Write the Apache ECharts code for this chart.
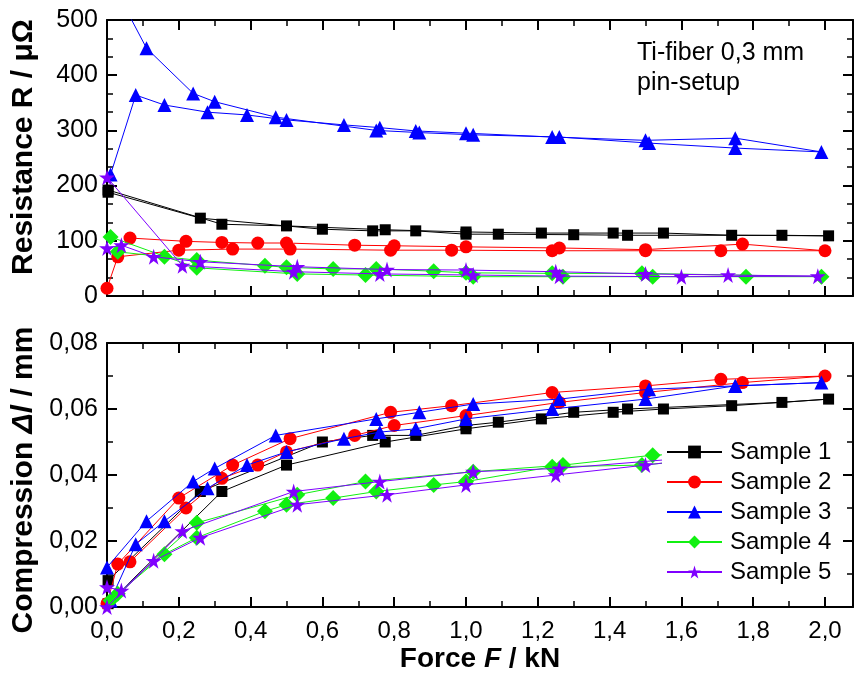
<!DOCTYPE html>
<html><head><meta charset="utf-8">
<script src="https://cdn.jsdelivr.net/npm/echarts@6/dist/echarts.min.js"></script>
<style>html,body{margin:0;padding:0;background:#fff}#c{width:855px;height:677px}</style>
</head><body><div id="c"></div>
<script>
// ---- data (loading then unloading, in measurement order) ----
const names = ['Sample 1','Sample 2','Sample 3','Sample 4','Sample 5'];
const F1 = [0.003,0.32,0.50,0.775,1.00,1.21,1.41,1.55,1.74,2.01,1.88,1.45,1.30,1.09,1.00,0.86,0.74,0.60,0.26,0.003];
const R1 = [192,130,127,120,116,114,114,114,110,109,110,110,111,112,112,118,118,121,141,188];
const C1 = [0.001,0.035,0.043,0.050,0.054,0.057,0.059,0.060,0.061,0.063,0.062,0.060,0.059,0.056,0.055,0.052,0.052,0.050,0.035,0.008];
const F2 = [0.0,0.03,0.20,0.35,0.51,0.79,0.96,1.24,1.50,1.71,2.00,1.77,1.50,1.26,1.00,0.80,0.69,0.50,0.42,0.32,0.22,0.064];
const R2 = [14,71,83,85,85,83,83,82,82,82,82,94,84,87,89,91,92,96,96,97,99,105];
const C2 = [0.001,0.013,0.033,0.043,0.051,0.059,0.061,0.065,0.067,0.069,0.070,0.068,0.065,0.062,0.058,0.055,0.052,0.047,0.043,0.039,0.030,0.0137];
const F3 = [0.01,0.08,0.16,0.28,0.39,0.50,0.66,0.76,0.86,1.00,1.24,1.50,1.75,1.99,1.75,1.51,1.26,1.02,0.87,0.75,0.47,0.30,0.24,0.11,0.0];
const R3 = [220,364,346,333,328,319,310,305,299,295,288,282,286,261,268,277,288,292,296,300,324,352,367,449,585];
const C3 = [0.002,0.019,0.026,0.036,0.043,0.047,0.051,0.053,0.054,0.057,0.060,0.063,0.067,0.068,0.067,0.066,0.063,0.0615,0.059,0.057,0.052,0.042,0.038,0.026,0.012];
const F4 = [0.01,0.25,0.53,0.72,1.02,1.27,1.52,1.78,1.99,1.49,1.24,1.00,0.91,0.75,0.63,0.50,0.44,0.25,0.16,0.03];
const R4 = [107,51,40,38,35,35,35,35,35,41,41,42,45,49,49,52,55,65,71,80];
const C4 = [0.002,0.0255,0.034,0.038,0.041,0.043,0.046,0.047,0.048,0.043,0.0425,0.038,0.037,0.035,0.033,0.031,0.029,0.021,0.016,0.004];
const F5 = [0.0,0.21,0.52,0.76,1.02,1.26,1.60,1.98,1.73,1.50,1.25,1.00,0.78,0.53,0.26,0.13,0.04,0.0];
const R5 = [215,55,44,40,38,36,35,36,38,40,44,47,48,53,62,71,92,87];
const C5 = [0.000,0.023,0.035,0.038,0.041,0.042,0.045,0.047,0.046,0.043,0.040,0.037,0.034,0.031,0.021,0.014,0.005,0.006];

const xTickLabels = ['0,0','0,2','0,4','0,6','0,8','1,0','1,2','1,4','1,6','1,8','2,0'];
const rTickLabels = ['0','100','200','300','400','500'];
const cTickLabels = ['0,00','0,02','0,04','0,06','0,08'];

// ---- styling ----
const colors = ['#000000','#ff0000','#0000ff','#11f011','#7f00ff'];
const STAR = 'path://M50,0 L61,35 L98,35 L68,57 L79,91 L50,70 L21,91 L32,57 L2,35 L39,35 Z';
const symbols = ['rect','circle','triangle','diamond',STAR];
const symSizes = [11,13,14,16,16];
const FF = 'Liberation Sans';
const Fs = [F1,F2,F3,F4,F5], Rs = [R1,R2,R3,R4,R5], Cs = [C1,C2,C3,C4,C5];

function pick(labels, step){
  return function(v){ const i = Math.round(v/step); return Math.abs(v-i*step) < 1e-6 && labels[i] !== undefined ? labels[i] : ''; };
}
const XMAX = 2.078;
function xAx(grid, pos, showLabel){
  return {type:'value', gridIndex:grid, position:pos, min:0, max:XMAX, interval:0.2,
    axisLine:{show:true, onZero:false, lineStyle:{color:'#000', width:2}},
    axisTick:{show:true, inside:true, length:10, lineStyle:{color:'#000', width:2}},
    minorTick:{show:true, splitNumber:2, length:6, lineStyle:{color:'#000', width:1.5}},
    splitLine:{show:false},
    axisLabel:{show:showLabel, showMaxLabel:false, formatter:pick(xTickLabels,0.2), color:'#000', fontFamily:FF, fontSize:24, margin:12}};
}
function yAx(grid, pos, max, interval, labels, split, showLabel){
  return {type:'value', gridIndex:grid, position:pos, min:0, max:max, interval:interval,
    axisLine:{show:true, onZero:false, lineStyle:{color:'#000', width:2}},
    axisTick:{show:true, inside:true, length:10, lineStyle:{color:'#000', width:2}},
    minorTick:{show:true, splitNumber:split, length:6, lineStyle:{color:'#000', width:1.5}},
    splitLine:{show:false},
    axisLabel:{show:showLabel, formatter:pick(labels,interval), color:'#000', fontFamily:FF, fontSize:25, margin:9}};
}
const TS = 30;
const bStyle = {fontFamily:FF,fontSize:TS,fontWeight:'bold',color:'#000'};
const biStyle = {fontFamily:FF,fontSize:TS,fontWeight:'bold',fontStyle:'italic',color:'#000'};
const xAxes = [xAx(0,'bottom',false), xAx(0,'top',false), xAx(1,'bottom',true), xAx(1,'top',false)];
xAxes[2].name = '{b|Force }{bi|F}{b| / kN}';
xAxes[2].nameLocation = 'middle';
xAxes[2].nameGap = 38;
xAxes[2].nameTextStyle = {rich:{b:Object.assign({},bStyle,{fontSize:28}),bi:Object.assign({},biStyle,{fontSize:28})}};
const yAxes = [yAx(0,'left',500,100,rTickLabels,3,true), yAx(0,'right',500,100,rTickLabels,3,false),
               yAx(1,'left',0.08,0.02,cTickLabels,2,true), yAx(1,'right',0.08,0.02,cTickLabels,2,false)];
yAxes[0].name = '{b|Resistance R / μΩ}';
yAxes[0].nameLocation = 'middle'; yAxes[0].nameGap = 68;
yAxes[0].nameTextStyle = {padding:[0,0,0,22], rich:{b:bStyle}};
yAxes[2].name = '{b|Compression }{bi|Δl}{b| / mm}';
yAxes[2].nameLocation = 'middle'; yAxes[2].nameGap = 68;
yAxes[2].nameTextStyle = {padding:[0,10,0,0], rich:{b:bStyle,bi:biStyle}};

const series = [];
for (let k=0;k<5;k++){
  const base = {type:'line', name:names[k], symbol:symbols[k], symbolSize:symSizes[k], showSymbol:true,
    itemStyle:{color:colors[k]}, lineStyle:{color:colors[k], width:1}, clip:true, z:2+k*0.01};
  series.push(Object.assign({}, base, {xAxisIndex:0, yAxisIndex:0, data:Fs[k].map((f,i)=>[f,Rs[k][i]])}));
  series.push(Object.assign({}, base, {xAxisIndex:2, yAxisIndex:2, data:Fs[k].map((f,i)=>[f,Cs[k][i]])}));
}

const chart = echarts.init(document.getElementById('c'), null, {renderer:'canvas'});
chart.setOption({
  animation:false,
  backgroundColor:'#fff',
  grid:[{left:107, top:20, right:2, height:276}, {left:107, top:343, right:2, height:264}],
  xAxis:xAxes, yAxis:yAxes,
  legend:{data:names, orient:'vertical', left:662, top:437, itemWidth:55, itemHeight:16, itemGap:6,
    backgroundColor:'#fff', padding:[3,4],
    textStyle:{fontFamily:FF, fontSize:24, color:'#000', padding:[0,0,0,3]}},
  graphic:[
    {type:'text', left:637, top:41, style:{text:'Ti-fiber 0,3 mm', font:'25px "Liberation Sans"', fill:'#000'}},
    {type:'text', left:637, top:71, style:{text:'pin-setup', font:'25px "Liberation Sans"', fill:'#000'}}
  ],
  series:series
});
</script></body></html>
